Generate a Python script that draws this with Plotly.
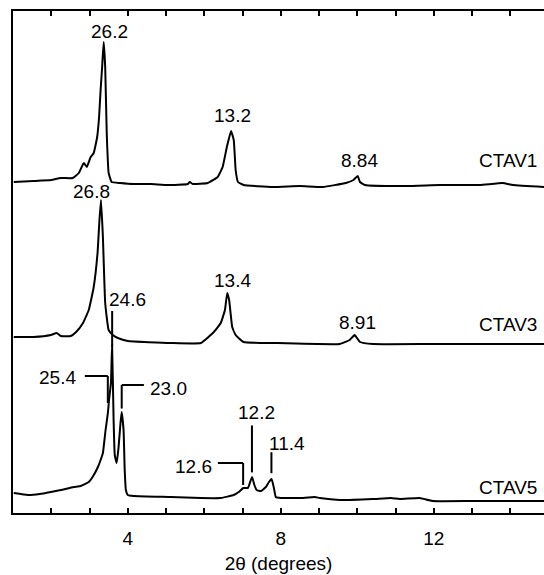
import math
import plotly.graph_objects as go

# Cu K-alpha wavelength (Å) used to place reflections from their d-spacings
WAVELENGTH = 1.5418


def bragg_two_theta(d):
    """2θ (degrees) of a reflection with spacing d (Å)."""
    return 2 * math.degrees(math.asin(WAVELENGTH / (2 * d)))


# ---------------------------------------------------------------- CTAV1 ----
ctav1_two_theta = [1.02, 1.54, 2.00, 2.25, 2.56, 2.72, 2.85, 2.93, 3.03, 3.11,
                   3.20, 3.25, 3.29, 3.33, 3.37, 3.41, 3.45, 3.50, 3.58, 3.80,
                   4.16, 4.60, 5.05, 5.57, 5.62, 5.70, 6.09, 6.35, 6.48, 6.59,
                   6.70, 6.77, 6.82, 6.88, 7.03, 7.79, 8.50, 9.10, 9.70, 9.90,
                   10.01, 10.07, 10.20, 11.27, 12.16, 13.20, 13.80, 14.07, 14.90]
ctav1_intensity = [11, 12, 13, 15, 15, 20, 30, 26, 36, 40,
                   56, 76, 103, 126, 151, 126, 60, 20, 11, 10,
                   9, 9, 8, 9, 11, 9, 10, 16, 26, 46,
                   62, 53, 23, 11, 8, 6, 7, 6, 10, 13,
                   17, 11, 8, 7, 8, 8, 10, 8, 6]

# ---------------------------------------------------------------- CTAV3 ----
ctav3_two_theta = [1.02, 1.54, 1.99, 2.14, 2.25, 2.51, 2.65, 2.83, 2.98, 3.11,
                   3.21, 3.26, 3.30, 3.35, 3.41, 3.50, 3.61, 3.74, 4.00, 5.12,
                   5.91, 6.25, 6.43, 6.54, 6.60, 6.65, 6.73, 6.82, 7.03, 7.79,
                   9.54, 9.80, 9.93, 10.07, 10.41, 12.00, 14.90]
ctav3_intensity = [16, 16, 18, 20, 17, 17, 21, 30, 43, 66,
                   100, 133, 153, 116, 50, 23, 18, 15, 12, 10,
                   10, 21, 30, 43, 60, 53, 26, 18, 11, 10,
                   9, 13, 18, 11, 9, 9, 9]

# ---------------------------------------------------------------- CTAV5 ----
ctav5_two_theta = [1.02, 1.39, 1.70, 1.99, 2.25, 2.59, 2.77, 2.98, 3.08, 3.22,
                   3.29, 3.35, 3.42, 3.48, 3.51, 3.56, 3.59, 3.63, 3.66, 3.71,
                   3.76, 3.81, 3.84, 3.89, 3.92, 3.95, 4.00, 4.16, 5.12, 5.91,
                   6.43, 6.77, 6.90, 7.02, 7.14, 7.20, 7.25, 7.31, 7.37, 7.48,
                   7.61, 7.69, 7.76, 7.82, 7.87, 8.00, 8.26, 8.50, 8.89, 9.02,
                   9.54, 10.41, 10.88, 11.11, 11.63, 11.97, 13.02, 14.90]
ctav5_intensity = [20, 18, 19, 21, 23, 26, 27, 31, 36, 46,
                   53, 60, 83, 100, 113, 130, 168, 93, 58, 50,
                   66, 90, 101, 83, 43, 23, 18, 17, 16, 15,
                   15, 18, 21, 25, 25, 31, 36, 28, 23, 22,
                   26, 31, 34, 25, 16, 15, 15, 15, 16, 15,
                   13, 14, 15, 14, 15, 12, 12, 12]

# Sample names and the vertical offset used to stack each pattern
sample_names = ["CTAV1", "CTAV3", "CTAV5"]
sample_offsets = [320, 160, 0]

# Labelled d-spacings (Å)
ctav1_d = [26.2, 13.2, 8.84]
ctav3_d = [26.8, 13.4, 8.91]
ctav5_d = [25.4, 24.6, 23.0, 12.6, 12.2, 11.4]

x_tick_values = list(range(2, 15))
x_tick_labels = ["4", "8", "12"]

FONT = "Liberation Sans, Arial, Helvetica, sans-serif"
LABEL_SIZE = 19

patterns = [
    (ctav1_two_theta, ctav1_intensity),
    (ctav3_two_theta, ctav3_intensity),
    (ctav5_two_theta, ctav5_intensity),
]


def peak_height(xs, ys, x0):
    """Intensity of a pattern interpolated at 2θ = x0."""
    for i in range(len(xs) - 1):
        if xs[i] <= x0 <= xs[i + 1]:
            t = (x0 - xs[i]) / (xs[i + 1] - xs[i])
            return ys[i] + t * (ys[i + 1] - ys[i])
    return ys[-1]


def d_label(d):
    return f"{d:.2f}" if d < 10 else f"{d:.1f}"


fig = go.Figure()
for (xs, ys), name, off in zip(patterns, sample_names, sample_offsets):
    fig.add_trace(go.Scatter(
        x=xs, y=[v + off for v in ys], mode="lines", name=name,
        line=dict(color="black", width=2, shape="spline", smoothing=0.35),
        hoverinfo="skip", showlegend=False,
    ))

annotations = []
shapes = []


def text(x, y, s, xanchor="center", xshift=0):
    annotations.append(dict(
        x=x, y=y, text=s, showarrow=False, xanchor=xanchor, yanchor="middle",
        xshift=xshift, font=dict(family=FONT, size=LABEL_SIZE, color="black"),
    ))


def seg(x0, y0, x1, y1):
    shapes.append(dict(type="line", x0=x0, y0=y0, x1=x1, y1=y1,
                       line=dict(color="black", width=2)))


# Simple peak labels sitting above the reflections
for d, off, xs, ys, shift, lift in [
    (ctav1_d[0], 320, ctav1_two_theta, ctav1_intensity, 6, 12),
    (ctav1_d[1], 320, ctav1_two_theta, ctav1_intensity, 2, 16),
    (ctav1_d[2], 320, ctav1_two_theta, ctav1_intensity, 2, 16),
    (ctav3_d[0], 160, ctav3_two_theta, ctav3_intensity, -9, 10),
    (ctav3_d[1], 160, ctav3_two_theta, ctav3_intensity, 5, 14),
    (ctav3_d[2], 160, ctav3_two_theta, ctav3_intensity, 3, 13),
]:
    x0 = bragg_two_theta(d)
    text(x0, peak_height(xs, ys, x0) + off + lift, d_label(d), xshift=shift)

# CTAV5 reflections with leader lines
t254, t246, t230 = (bragg_two_theta(d) for d in ctav5_d[:3])
t126, t122, t114 = (bragg_two_theta(d) for d in ctav5_d[3:])

# 24.6: vertical leader up to the label
h = peak_height(ctav5_two_theta, ctav5_intensity, t246)
seg(t246, h + 2, t246, h + 37)
text(t246, h + 48, d_label(ctav5_d[1]), xanchor="left", xshift=-5)

# 25.4: leader runs down onto the shoulder, label to the left
seg(t254, 110, t254, 137)
seg(t254, 137, t254 - 0.60, 137)
text(t254 - 0.60, 136, d_label(ctav5_d[0]), xanchor="right", xshift=-7)

# 23.0: leader to the right
h = peak_height(ctav5_two_theta, ctav5_intensity, t230)
seg(t230, h + 4, t230, 128)
seg(t230, 128, t230 + 0.58, 128)
text(t230 + 0.58, 125, d_label(ctav5_d[2]), xanchor="left", xshift=4)

# 12.6: leader to the left
seg(t126, 28, t126, 50)
seg(t126, 50, t126 - 0.66, 50)
text(t126 - 0.66, 47, d_label(ctav5_d[3]), xanchor="right", xshift=-4)

# 12.2 and 11.4: vertical leaders
h = peak_height(ctav5_two_theta, ctav5_intensity, t122)
seg(t122, h + 5, t122, h + 52)
text(t122, h + 65, d_label(ctav5_d[4]), xshift=5)
h = peak_height(ctav5_two_theta, ctav5_intensity, t114)
seg(t114, h + 6, t114, h + 27)
text(t114, h + 36, d_label(ctav5_d[5]), xshift=16)

# Sample names at the right-hand end of each pattern
for name, off, xs, ys, lift in [
    (sample_names[0], 320, ctav1_two_theta, ctav1_intensity, 27),
    (sample_names[1], 160, ctav3_two_theta, ctav3_intensity, 20),
    (sample_names[2], 0, ctav5_two_theta, ctav5_intensity, 14),
]:
    text(13.12, ys[-1] + off + lift, name, xanchor="left")

fig.update_layout(
    width=544, height=575,
    margin=dict(l=13, r=0, t=11, b=62),
    paper_bgcolor="white", plot_bgcolor="white",
    font=dict(family=FONT, size=LABEL_SIZE, color="black"),
    annotations=annotations, shapes=shapes,
    xaxis=dict(
        range=[1.0, 14.88], tickmode="array", tickvals=x_tick_values,
        ticktext=[str(v) if str(v) in x_tick_labels else "" for v in x_tick_values],
        ticks="inside", ticklen=5, tickwidth=1.5, tickcolor="black",
        showline=True, linewidth=2, linecolor="black", mirror="ticks",
        showgrid=False, zeroline=False, ticklabelstandoff=7,
        tickfont=dict(family=FONT, size=LABEL_SIZE),
        title=dict(text="2θ (degrees)", standoff=9,
                   font=dict(family=FONT, size=LABEL_SIZE)),
    ),
    yaxis=dict(
        range=[0, 502], showline=True, linewidth=2, linecolor="black",
        mirror=False, showticklabels=False, ticks="", showgrid=False,
        zeroline=False,
    ),
)

fig.write_html("out.html")
